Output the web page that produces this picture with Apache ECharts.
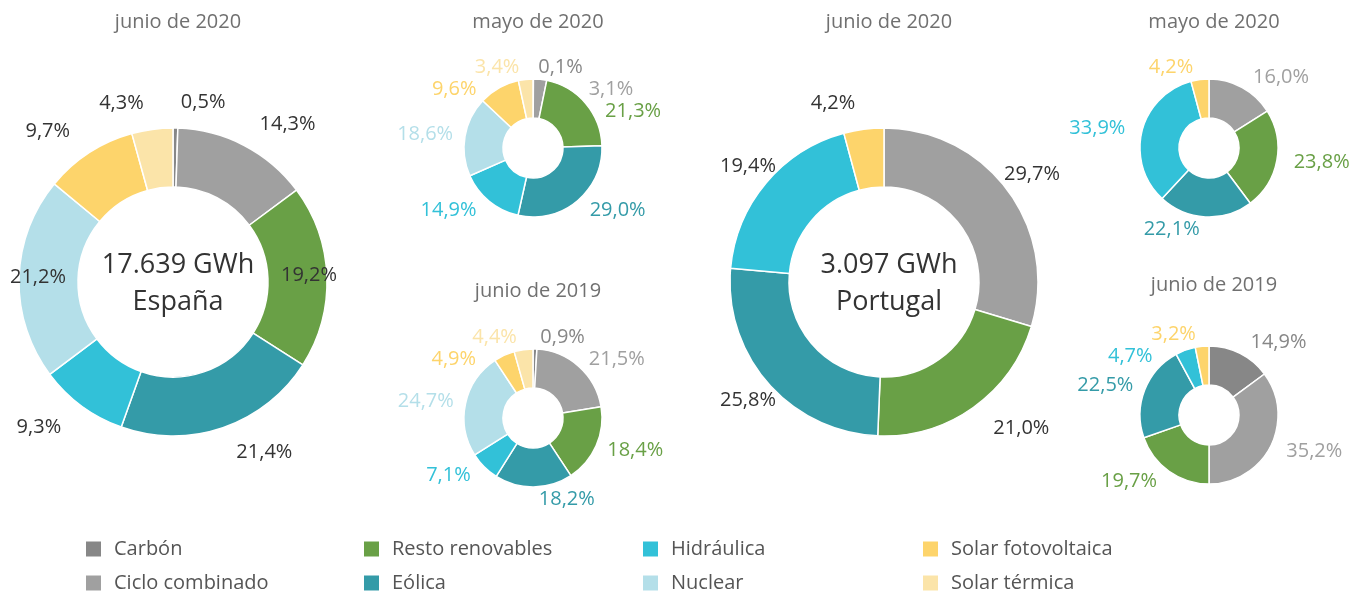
<!DOCTYPE html>
<html>
<head>
<meta charset="utf-8">
<title>Generación eléctrica</title>
<script src="https://cdn.jsdelivr.net/npm/echarts@6/dist/echarts.min.js"></script>
<style>
  html, body { margin: 0; padding: 0; background: #fff; }
  #main { width: 1362px; height: 596px; }
</style>
</head>
<body>
<div id="main"></div>
<script>
// categorías (orden de las porciones, en sentido horario desde arriba)
const categories = ['Carbón', 'Ciclo combinado', 'Resto renovables', 'Eólica', 'Hidráulica', 'Nuclear', 'Solar fotovoltaica', 'Solar térmica'];
const colors = ['#878787', '#a0a0a0', '#69a046', '#349ba8', '#32c1d8', '#b4dfe9', '#fdd46b', '#fbe4a9'];

// porcentajes por categoría (null = no aplica)
const espJun2020 = [0.5, 14.3, 19.2, 21.4, 9.3, 21.2, 9.7, 4.3];
const espMay2020 = [0.1, 3.1, 21.3, 29.0, 14.9, 18.6, 9.6, 3.4];
const espJun2019 = [0.9, 21.5, 18.4, 18.2, 7.1, 24.7, 4.9, 4.4];
const porJun2020 = [null, 29.7, 21.0, 25.8, 19.4, null, 4.2, null];
const porMay2020 = [null, 16.0, 23.8, 22.1, 33.9, null, 4.2, null];
const porJun2019 = [14.9, 35.2, 19.7, 22.5, 4.7, null, 3.2, null];

const totals = ['17.639 GWh', '3.097 GWh'];
const countries = ['España', 'Portugal'];
const periods = ['junio de 2020', 'mayo de 2020', 'junio de 2019'];

const FONT = "'Open Sans', 'Noto Sans', sans-serif";

const chart = echarts.init(document.getElementById('main'));

function toData(values) {
  const out = [];
  values.forEach((v, i) => {
    if (v === null) return;
    out.push({ name: categories[i], value: v, itemStyle: { color: colors[i] } });
  });
  return out;
}

function fmt(p) {
  return p.value.toFixed(1).replace('.', ',') + '%';
}

// mantiene las etiquetas dentro del panel de cada gráfico
function clampLabels(minX, maxX) {
  return function (params) {
    const r = params.labelRect;
    let dx = 0;
    if (r.x < minX) dx = minX - r.x;
    if (r.x + r.width > maxX) dx = maxX - (r.x + r.width);
    return { dx: dx };
  };
}

function bigPie(values, cx, minX, maxX) {
  return {
    type: 'pie',
    center: [cx, 282],
    radius: [95, 154],
    startAngle: 90,
    avoidLabelOverlap: true,
    minShowLabelAngle: 0,
    itemStyle: { borderColor: '#fff', borderWidth: 1.5 },
    label: {
      show: true,
      position: 'outside',
      overflow: 'none',
      formatter: fmt,
      fontFamily: FONT,
      fontSize: 20,
      color: '#333'
    },
    labelLine: { show: false, length: 26, length2: 0 },
    labelLayout: clampLabels(minX, maxX),
    emphasis: { disabled: true },
    data: toData(values)
  };
}

function smallPie(values, cx, cy) {
  return {
    type: 'pie',
    center: [cx, cy],
    radius: [30, 69],
    startAngle: 90,
    avoidLabelOverlap: true,
    minShowLabelAngle: 0,
    itemStyle: { borderColor: '#fff', borderWidth: 1.5 },
    label: {
      show: true,
      position: 'outside',
      overflow: 'none',
      formatter: fmt,
      fontFamily: FONT,
      fontSize: 20,
      color: 'inherit'
    },
    labelLine: { show: false, length: 12, length2: 0 },
    emphasis: { disabled: true },
    data: toData(values)
  };
}

function periodTitle(text, x, y) {
  return {
    text: text,
    left: x,
    top: y,
    textAlign: 'center',
    textStyle: { fontFamily: FONT, fontSize: 20, fontWeight: 'normal', color: '#707070' }
  };
}

function centerTitle(total, country, x) {
  return {
    text: total + '\n' + country,
    left: x,
    top: 242,
    textAlign: 'center',
    textStyle: { fontFamily: FONT, fontSize: 27, fontWeight: 'normal', color: '#333', lineHeight: 37 }
  };
}

// una leyenda por elemento para fijar la rejilla de 4 columnas x 2 filas
function legendItem(name, x, y) {
  return {
    left: x,
    top: y,
    icon: 'rect',
    itemWidth: 17,
    itemHeight: 17,
    selectedMode: false,
    data: [name],
    textStyle: { fontFamily: FONT, fontSize: 20, color: '#555', padding: [0, 0, 0, 7] }
  };
}

const legendCols = [79, 357, 636, 916];
const legendRows = [534, 568];

const option = {
  animation: false,
  title: [
    periodTitle(periods[0], 173, 7),
    periodTitle(periods[1], 533, 7),
    periodTitle(periods[2], 533, 276),
    periodTitle(periods[0], 884, 7),
    periodTitle(periods[1], 1209, 7),
    periodTitle(periods[2], 1209, 270),
    centerTitle(totals[0], countries[0], 173),
    centerTitle(totals[1], countries[1], 884)
  ],
  legend: categories.map((c, i) => legendItem(c, legendCols[Math.floor(i / 2)], legendRows[i % 2])),
  series: [
    bigPie(espJun2020, 173, 10, 337),
    smallPie(espMay2020, 533, 148),
    smallPie(espJun2019, 533, 418),
    bigPie(porJun2020, 884, 720, 1060),
    smallPie(porMay2020, 1209, 148),
    smallPie(porJun2019, 1209, 415)
  ]
};

chart.setOption(option);
</script>
</body>
</html>
